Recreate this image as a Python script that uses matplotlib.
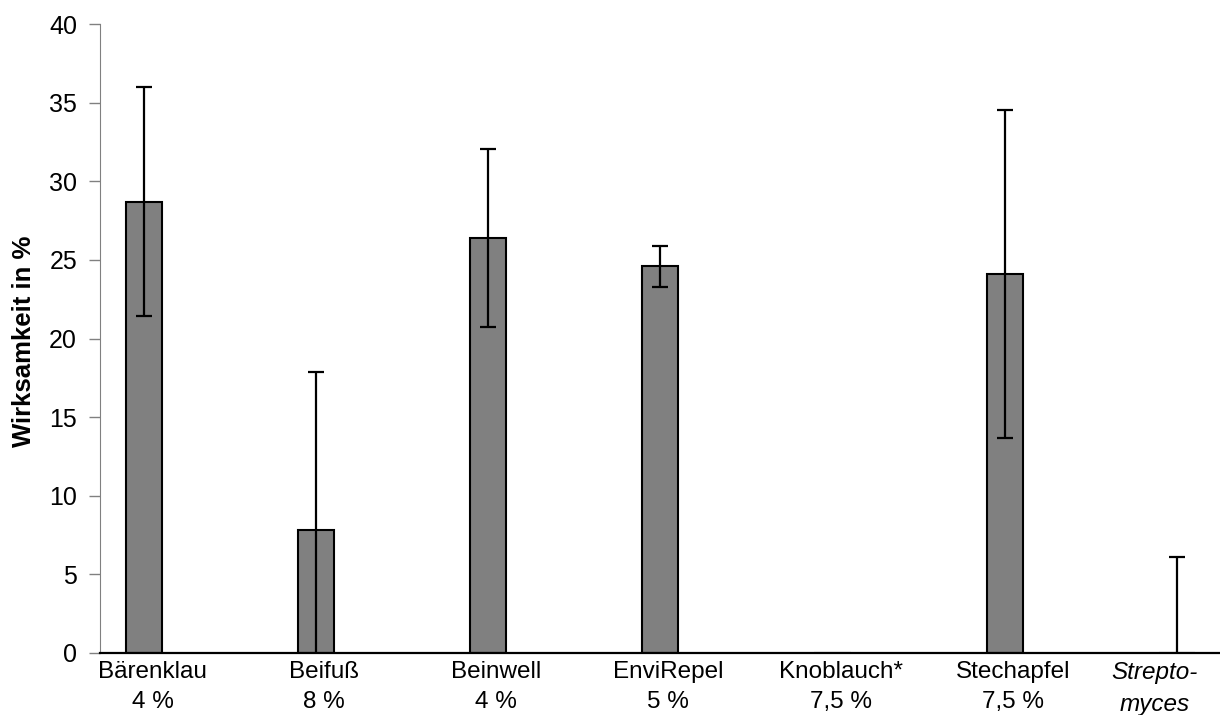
import numpy as np
import matplotlib.pyplot as plt
from matplotlib.transforms import ScaledTranslation

plt.rcParams['font.family'] = ['Liberation Sans', 'DejaVu Sans']

# Data
products = ["Bärenklau\n4 %", "Beifuß\n8 %", "Beinwell\n4 %", "EnviRepel\n5 %",
            "Knoblauch*\n7,5 %", "Stechapfel\n7,5 %", "Strepto-\nmyces"]
efficacy = [28.7, 7.8, 26.4, 24.6, 0.0, 24.1, 0.0]
errors = [7.3, 10.05, 5.65, 1.3, 0.0, 10.45, 6.1]

fig = plt.figure(figsize=(12.2, 7.15), dpi=100)
ax = fig.add_axes([100 / 1220, 1 - 653 / 715, 1 - 100 / 1220, (653 - 24) / 715])

x = np.arange(len(products))
ax.bar(x, efficacy, width=0.21, color='#808080', edgecolor='black', linewidth=1.5, zorder=2)

# error bars only where there is one
mask = np.array(errors) > 0
ax.errorbar(x[mask], np.array(efficacy)[mask], yerr=np.array(errors)[mask], fmt='none',
            ecolor='black', elinewidth=1.6, capsize=5.8, capthick=1.6, zorder=3)

ax.set_xlim(-0.254, 6.25)
ax.set_ylim(0, 40)
ax.set_yticks(range(0, 41, 5))
ax.set_xticks([])
ax.tick_params(axis='y', length=8, width=1, color='#808080', labelsize=18, pad=8.5)

# category labels, nudged a bit like in the original (last one pulled in from the edge)
shifts = [9, 8, 8, 8, 8, 8, -22]
for i, (lab, dx) in enumerate(zip(products, shifts)):
    tr = ax.get_xaxis_transform() + ScaledTranslation(dx / 100, 0, fig.dpi_scale_trans)
    ax.text(i, -0.012, lab, transform=tr, ha='center', va='top', fontsize=17.5,
            linespacing=1.5, fontstyle='italic' if i == len(products) - 1 else 'normal')

for s in ['top', 'right']:
    ax.spines[s].set_visible(False)
ax.spines['left'].set_color('#808080')
ax.spines['bottom'].set_color('black')
ax.spines['bottom'].set_linewidth(1.6)
ax.spines['bottom'].set_zorder(4)

fig.text(24 / 1220, 1 - 341 / 715, "Wirksamkeit in %", rotation=90, ha='center', va='center',
         fontsize=18.5, fontweight='bold')

fig.savefig("out.png", dpi=100)
